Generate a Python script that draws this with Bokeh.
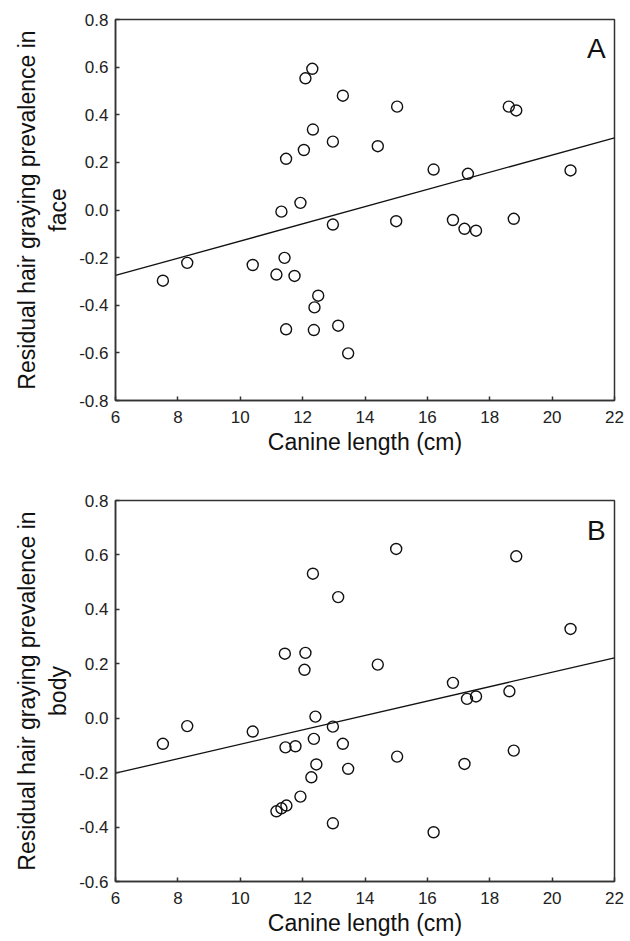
from bokeh.plotting import figure
from bokeh.layouts import column
from bokeh.models import Range1d, FixedTicker, NumeralTickFormatter, Label, ColumnDataSource
from bokeh.embed import file_html
from bokeh.resources import INLINE

# ---- Data ----
canine_a = [12.31, 12.09, 13.29, 15.03, 18.61, 18.85, 12.33, 12.97, 14.41, 12.04, 11.47,
            16.2, 17.3, 20.59, 11.93, 11.32, 12.97, 15.0, 16.82, 17.19, 17.56, 18.77,
            7.52, 8.30, 10.40, 11.42, 11.16, 11.74, 11.47, 12.36, 12.38, 12.5, 13.14, 13.46]
face_resid = [0.593, 0.553, 0.48, 0.434, 0.434, 0.418, 0.338, 0.287, 0.268, 0.252, 0.215,
              0.170, 0.152, 0.166, 0.030, -0.007, -0.061, -0.047, -0.042, -0.079, -0.087, -0.037,
              -0.297, -0.222, -0.231, -0.201, -0.271, -0.277, -0.501, -0.504, -0.409, -0.36, -0.486, -0.602]

canine_b = [12.33, 11.43, 12.09, 12.06, 15.0, 18.85, 13.14, 20.59, 14.41, 16.82, 18.63,
            17.27, 17.56, 7.52, 8.30, 10.40, 11.45, 11.77, 12.41, 12.36, 12.44, 12.28,
            11.93, 11.16, 11.32, 11.48, 12.97, 13.29, 15.03, 13.46, 12.97, 16.2, 17.19, 18.77]
body_resid = [0.531, 0.237, 0.240, 0.178, 0.622, 0.595, 0.445, 0.328, 0.197, 0.130, 0.099,
              0.071, 0.080, -0.094, -0.029, -0.049, -0.107, -0.103, 0.006, -0.076, -0.170, -0.217,
              -0.288, -0.342, -0.331, -0.321, -0.031, -0.094, -0.141, -0.186, -0.386, -0.419, -0.168, -0.119]

fit_x = [6, 22]
fit_face_y = [-0.275, 0.303]
fit_body_y = [-0.202, 0.222]

x_ticks = [6, 8, 10, 12, 14, 16, 18, 20, 22]
y_ticks_a = [-0.8, -0.6, -0.4, -0.2, 0.0, 0.2, 0.4, 0.6, 0.8]
y_ticks_b = [-0.6, -0.4, -0.2, 0.0, 0.2, 0.4, 0.6, 0.8]

FONT = "Liberation Sans"
AX = "#333333"


def make_panel(xs, ys, fy, yticks, ylabel, letter, top, bottom):
    p = figure(output_backend="svg", toolbar_location=None,
               frame_width=499, frame_height=381,
               min_border_left=115, min_border_right=10,
               min_border_top=top, min_border_bottom=bottom,
               x_range=Range1d(6, 22), y_range=Range1d(yticks[0], yticks[-1]))
    p.grid.visible = False
    p.outline_line_color = AX
    p.outline_line_width = 1.5
    p.background_fill_color = "white"
    p.border_fill_color = "white"

    p.xaxis.ticker = FixedTicker(ticks=x_ticks)
    p.yaxis.ticker = FixedTicker(ticks=yticks)
    p.yaxis.formatter = NumeralTickFormatter(format="0.0")
    for ax in (p.xaxis, p.yaxis):
        ax.axis_line_color = AX
        ax.axis_line_width = 1.5
        ax.major_tick_in = 4
        ax.major_tick_out = 0
        ax.major_tick_line_color = AX
        ax.major_tick_line_width = 1.5
        ax.minor_tick_line_color = None
        ax.major_label_text_font = FONT
        ax.major_label_text_font_size = "17px"
        ax.major_label_text_color = "#222222"
        ax.axis_label_text_font = FONT
        ax.axis_label_text_font_size = "23px"
        ax.axis_label_text_font_style = "normal"
        ax.axis_label_text_color = "#111111"
    p.xaxis.major_label_standoff = 10
    p.yaxis.major_label_standoff = 7
    p.xaxis.axis_label = "Canine length (cm)"
    p.xaxis.axis_label_standoff = 3
    p.yaxis.axis_label = ylabel
    p.yaxis.axis_label_standoff = 5
    p.yaxis.axis_label_text_line_height = 1.2

    p.line(fit_x, fy, line_color="#111111", line_width=1.3)
    src = ColumnDataSource(dict(x=xs, y=ys))
    p.scatter("x", "y", source=src, marker="circle", size=11,
              fill_color=None, line_color="#111111", line_width=1.4)

    p.add_layout(Label(x=21.72, y=yticks[-1] - 0.055, text=letter,
                       text_align="right", text_baseline="top",
                       text_font=FONT, text_font_size="28px", text_color="#111111"))
    return p


pA = make_panel(canine_a, face_resid, fit_face_y, y_ticks_a,
                "Residual hair graying prevalence in\nface", "A", 19, 70)
pB = make_panel(canine_b, body_resid, fit_body_y, y_ticks_b,
                "Residual hair graying prevalence in\nbody", "B", 30, 50)

layout = column(pA, pB, spacing=0)
open("out.html", "w").write(file_html(layout, INLINE))
